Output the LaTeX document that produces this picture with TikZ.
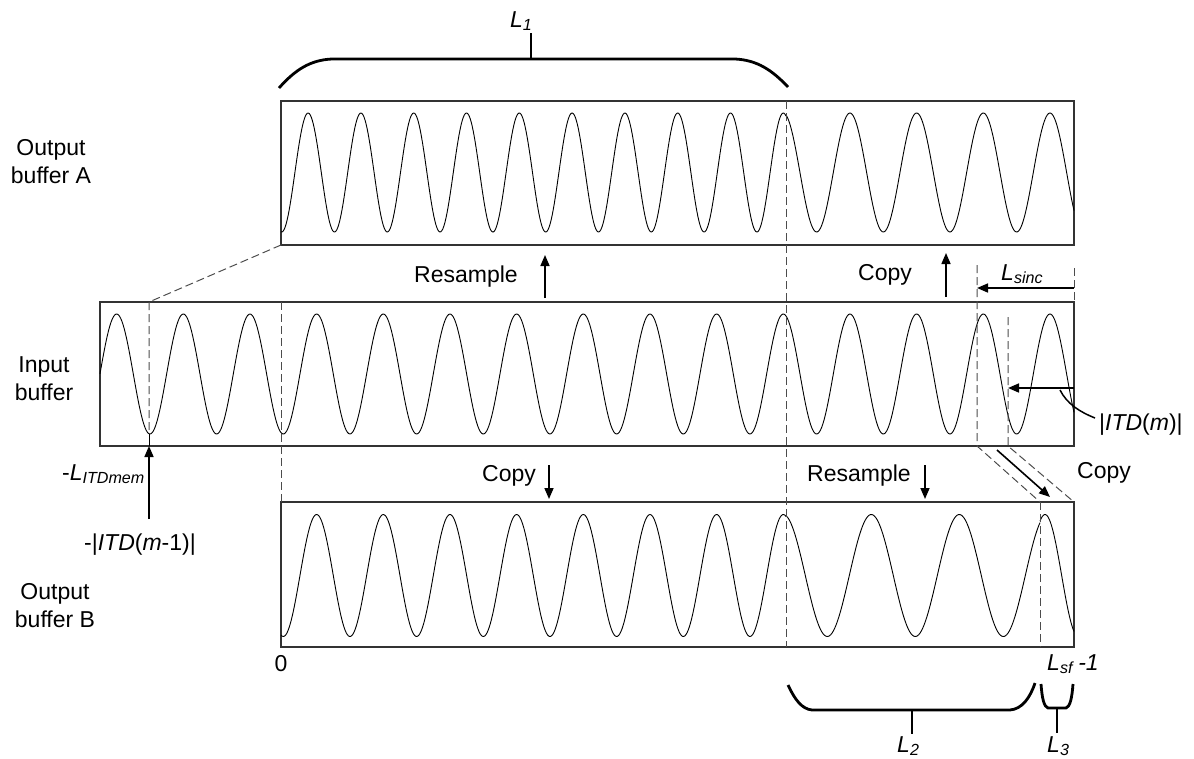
\documentclass[tikz,border=0pt]{standalone}
\usepackage{fontspec}
\setmainfont{Liberation Sans}
\usetikzlibrary{arrows.meta}
\begin{document}
\begin{tikzpicture}[x=1pt,y=-1pt,
  buf/.style={draw=black!80, line width=1.1pt, inner sep=0pt, outer sep=0pt},
  wave/.style={line width=0.9pt},
  guide/.style={draw=black!70, line width=1pt, dash pattern=on 8pt off 4pt},
  brc/.style={line width=2.8pt},
  arr/.style={-{Triangle[length=11pt,width=9pt]}, line width=1.6pt},
  lbl/.style={font=\fontsize{23}{28}\selectfont, align=center, inner sep=0pt},
  ]
\useasboundingbox (0,0) rectangle (1194,758);
% buffers
\node[buf, minimum width=793pt, minimum height=144pt] (bufA) at (677.5,173) {};
\node[buf, minimum width=974pt, minimum height=144pt] (bufI) at (587,374) {};
\node[buf, minimum width=793pt, minimum height=145pt] (bufB) at (677.5,574.5) {};
% waves
\draw[wave] plot[domain=281:786, samples=500] (\x, {172.5-59.5*cos((\x-783.3)/52.8*360)});
\draw[wave] plot[domain=786:1074, samples=250] (\x, {172.5-59.5*cos((\x-783.3)/66.667*360)});
\draw[wave] plot[domain=100:1074, samples=800] (\x, {374-60*cos((\x-783.3)/66.667*360)});
\draw[wave] plot[domain=281:786, samples=450] (\x, {575.5-61*cos((\x-783.3)/66.667*360)});
\draw[wave] plot[domain=786:1040, samples=200] (\x, {575.5-61*cos((\x-783.3)/88*360)});
\draw[wave] plot[domain=1040:1074, samples=40] (\x, {575.5-61*cos((\x-1045)/66.667*360)});
% coordinates
\coordinate (g149t) at (149,302);
\coordinate (g149b) at (149,434);
\coordinate (g149e) at (149,446);
\coordinate (g281t) at (281,302);
\coordinate (g281b) at (281,502);
\coordinate (g786t) at (786,101);
\coordinate (g786b) at (786,647);
\coordinate (g977t) at (977,265);
\coordinate (g977b) at (977,446);
\coordinate (g1008t) at (1008,317);
\coordinate (g1008b) at (1008,446);
\coordinate (g1074t) at (1074,268);
\coordinate (g1074b) at (1074,302);
\coordinate (g1040t) at (1040,502);
\coordinate (g1040b) at (1040,647);
\coordinate (g1074B) at (1074,502);
% guides
\draw[guide] (bufA.south west) -- (g149t) -- (g149b);
\draw[line width=1pt] (g149b) -- (g149e);
\draw[guide] (g281t) -- (g281b);
\draw[guide] (g786t) -- (g786b);
\draw[guide] (g977t) -- (g977b) -- (g1040t);
\draw[guide] (g1008t) -- (g1008b) -- (g1074B);
\draw[guide] (g1074t) -- (g1074b);
\draw[guide] (g1040t) -- (g1040b);
% labels
\node[lbl] (lA) at (51,162) {Output\\buffer A};
\node[lbl] (lI) at (44,379) {Input\\buffer};
\node[lbl] (lB) at (55,606) {Output\\buffer B};
\node[lbl] (rsU) at (466,277) {Resample};
\node[lbl] (cpU) at (885,275) {Copy};
\node[lbl] (cpD) at (509,476) {Copy};
\node[lbl] (rsD) at (859,476) {Resample};
\node[lbl] (cpR) at (1104,473) {Copy};
\node[lbl, anchor=base west] (lsinc) at (1001,280) {\textit{L}\textsubscript{\textit{sinc}}};
\node[lbl, anchor=base west] (itdm) at (1099,430) {|\textit{ITD}(\textit{m})|};
\node[lbl, anchor=base west] (litd) at (62,480) {-\textit{L}\textsubscript{\textit{ITDmem}}};
\node[lbl, anchor=base west] (itdm1) at (84,550) {-|\textit{ITD}(\textit{m}-1)|};
\node[lbl] (zero) at (281,664) {0};
\node[lbl, anchor=base west] (lsf) at (1047,670) {\textit{L}\textsubscript{\textit{sf}}\,\textit{-1}};
\node[lbl, anchor=base west] (l1) at (510,27) {\textit{L}\textsubscript{\textit{1}}};
\node[lbl, anchor=base west] (l2) at (897,752) {\textit{L}\textsubscript{\textit{2}}};
\node[lbl, anchor=base west] (l3) at (1047,752) {\textit{L}\textsubscript{\textit{3}}};
% arrows
\coordinate (a1s) at (545,298); \coordinate (a1e) at (545,255);
\coordinate (a2s) at (946,297); \coordinate (a2e) at (946,253);
\coordinate (a3s) at (549,465); \coordinate (a3e) at (549,499);
\coordinate (a4s) at (925,465); \coordinate (a4e) at (925,499);
\coordinate (a5s) at (997,450); \coordinate (a5e) at (1050,497);
\coordinate (a6s) at (1074,288); \coordinate (a6e) at (977,288);
\coordinate (a7s) at (1074,388); \coordinate (a7e) at (1008,388);
\coordinate (a8s) at (149,519); \coordinate (a8e) at (149,446);
\draw[arr] (a1s) -- (a1e);
\draw[arr] (a2s) -- (a2e);
\draw[arr] (a3s) -- (a3e);
\draw[arr] (a4s) -- (a4e);
\draw[arr] (a5s) -- (a5e);
\draw[arr] (a6s) -- (a6e);
\draw[arr] (a7s) -- (a7e);
\draw[arr] (a8s) -- (a8e);
\coordinate (c1) at (1060,390); \coordinate (c2) at (1095,418);
\draw[line width=1.5pt] (c1) .. controls (1067,404) and (1080,412) .. (c2);
% braces
\draw[brc] (279,88) .. controls (295,70) and (310,60) .. (332,59) -- (735,59) .. controls (757,60) and (772,70) .. (788,87);
\draw[brc] (531,59) -- (531,33);
\draw[brc] (788,685) .. controls (795,700) and (802,709) .. (812,710) -- (1010,710) .. controls (1022,709) and (1030,698) .. (1035,683);
\draw[brc] (912,710) -- (912,734);
\draw[brc] (1041,684) .. controls (1042,698) and (1044,707) .. (1048,708) -- (1066,708) .. controls (1070,707) and (1072,698) .. (1073,684);
\draw[brc] (1057,708) -- (1057,733);
\end{tikzpicture}
\end{document}
